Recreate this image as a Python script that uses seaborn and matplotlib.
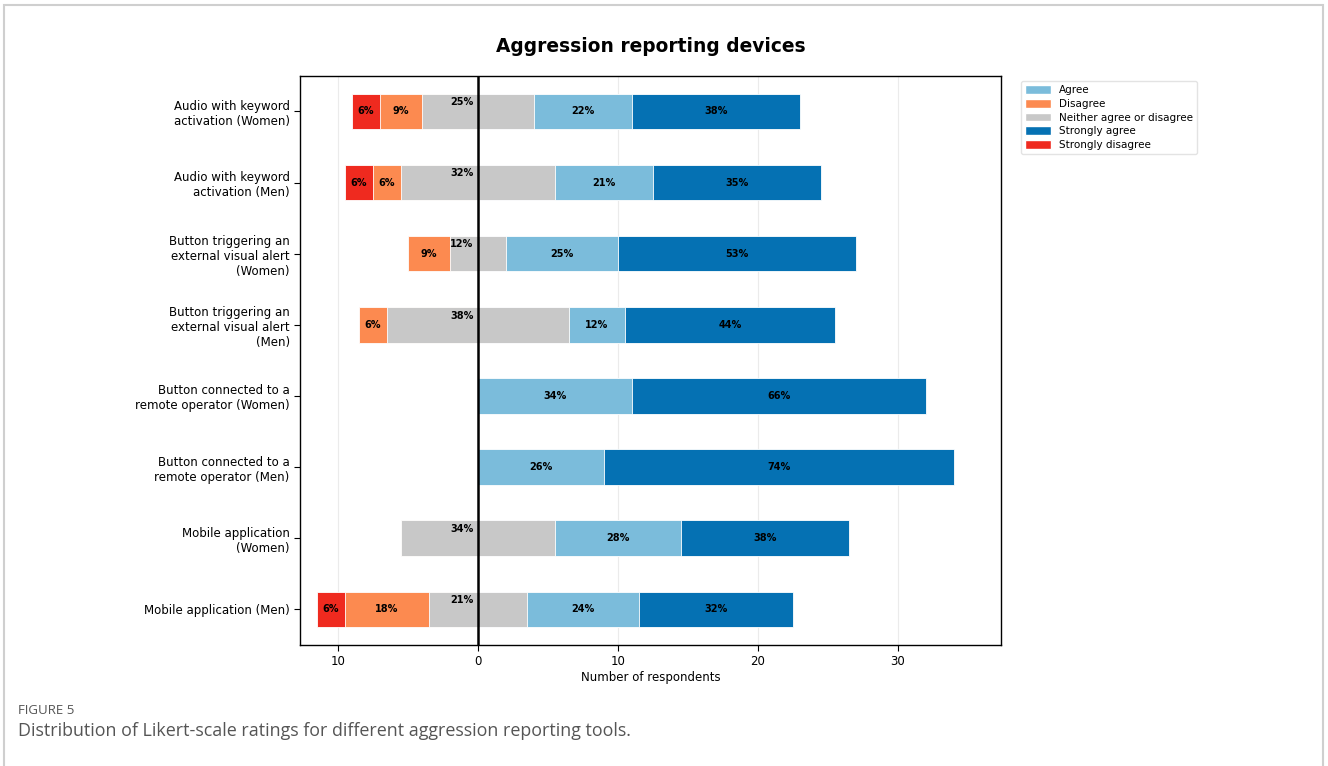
import numpy as np
import pandas as pd
import matplotlib.pyplot as plt
from matplotlib.patches import Patch, Rectangle
from matplotlib.ticker import FuncFormatter
import seaborn as sns

sns.set_style('ticks')
plt.rcParams.update({
    'text.color': 'black',
    'axes.labelcolor': 'black',
    'xtick.color': 'black',
    'ytick.color': 'black',
})

# ------------------------------------------------------------
# data (counts of respondents)
# ------------------------------------------------------------
devices = [
    "Audio with keyword\nactivation (Women)",
    "Audio with keyword\nactivation (Men)",
    "Button triggering an\nexternal visual alert\n(Women)",
    "Button triggering an\nexternal visual alert\n(Men)",
    "Button connected to a\nremote operator (Women)",
    "Button connected to a\nremote operator (Men)",
    "Mobile application\n(Women)",
    "Mobile application (Men)",
]
strongly_disagree = [2, 2, 0, 0, 0, 0, 0, 2]
disagree = [3, 2, 3, 2, 0, 0, 0, 6]
neutral = [8, 11, 4, 13, 0, 0, 11, 7]
agree = [7, 7, 8, 4, 11, 9, 9, 8]
strongly_agree = [12, 12, 17, 15, 21, 25, 12, 11]

colors = {
    'Agree': '#7bbcdb',
    'Disagree': '#fc8a50',
    'Neither agree or disagree': '#c8c8c8',
    'Strongly agree': '#0571b3',
    'Strongly disagree': '#ef2a1f',
}

df = pd.DataFrame({
    'device': devices, 'sd': strongly_disagree, 'd': disagree,
    'n': neutral, 'a': agree, 'sa': strongly_agree,
})
df['total'] = df[['sd', 'd', 'n', 'a', 'sa']].sum(axis=1)
half = df['n'] / 2

# ------------------------------------------------------------
# figure
# ------------------------------------------------------------
fig = plt.figure(figsize=(13.28, 7.66), dpi=100)
ax = fig.add_axes([0.226, 0.158, 0.528, 0.743])

layers = [
    (-(half + df['d'] + df['sd']), colors['Strongly disagree']),
    (-(half + df['d']), colors['Disagree']),
    (-half, colors['Neither agree or disagree']),
    (half + df['a'] + df['sa'], colors['Strongly agree']),
    (half + df['a'], colors['Agree']),
    (half, colors['Neither agree or disagree']),
]
for vals, col in layers:
    sns.barplot(x=vals.values, y=df['device'], orient='h', color=col,
                saturation=1, width=0.5, edgecolor='white', linewidth=0.6,
                ax=ax, zorder=2)

# percentage labels
def pct(c, t):
    return f"{round(c / t * 100)}%"

for i, r in df.iterrows():
    h = r['n'] / 2
    segs = [
        (r['sd'], -(h + r['d'] + r['sd'] / 2)),
        (r['d'], -(h + r['d'] / 2)),
        (r['a'], h + r['a'] / 2),
        (r['sa'], h + r['a'] + r['sa'] / 2),
    ]
    for c, xc in segs:
        if c > 0:
            ax.text(xc, i, pct(c, r['total']), ha='center', va='center',
                    fontsize=7, fontweight='bold', zorder=4)
    if r['n'] > 0:
        ax.text(-0.3, i - 0.13, pct(r['n'], r['total']), ha='right',
                va='center', fontsize=7, fontweight='bold', zorder=4)

ax.axvline(0, color='black', lw=1.8, zorder=3)
ax.set_xlim(-12.7, 37.4)
ax.set_ylim(7.5, -0.5)
ax.xaxis.set_major_formatter(FuncFormatter(lambda v, p: f"{abs(int(v))}"))
ax.set_xticks([-10, 0, 10, 20, 30])
ax.grid(axis='x', color='#ebebeb', lw=0.8, zorder=0)
ax.set_axisbelow(True)
for s in ax.spines.values():
    s.set_color('black')
    s.set_linewidth(1.0)
ax.tick_params(axis='both', labelsize=8.5, length=4)
ax.set_ylabel('')
ax.set_xlabel('Number of respondents', fontsize=8.5, labelpad=2)
ax.set_title('Aggression reporting devices', fontsize=13.4, fontweight='bold', pad=17)

legend_order = ['Agree', 'Disagree', 'Neither agree or disagree',
                'Strongly agree', 'Strongly disagree']
handles = [Patch(facecolor=colors[k], label=k) for k in legend_order]
ax.legend(handles=handles, loc='upper left', bbox_to_anchor=(1.02, 1.0),
          fontsize=7.5, frameon=True, edgecolor='#dddddd', handlelength=2.5,
          handleheight=0.9, labelspacing=0.35)

# page frame and caption
fig.patches.append(Rectangle((4 / 1328, -0.1), 1323 / 1328 - 4 / 1328, 1.1 - 5 / 766,
                             transform=fig.transFigure, fill=False,
                             edgecolor='#cfcfcf', lw=1.5))
fig.text(18 / 1328, 1 - 711 / 766, 'FIGURE 5', fontsize=9.5, color='#555555',
         family='Open Sans', va='center')
fig.text(18 / 1328, 1 - 731 / 766,
         'Distribution of Likert-scale ratings for different aggression reporting tools.',
         fontsize=12.9, color='#555555', family='Open Sans', va='center')

fig.savefig('out.png', dpi=100)
